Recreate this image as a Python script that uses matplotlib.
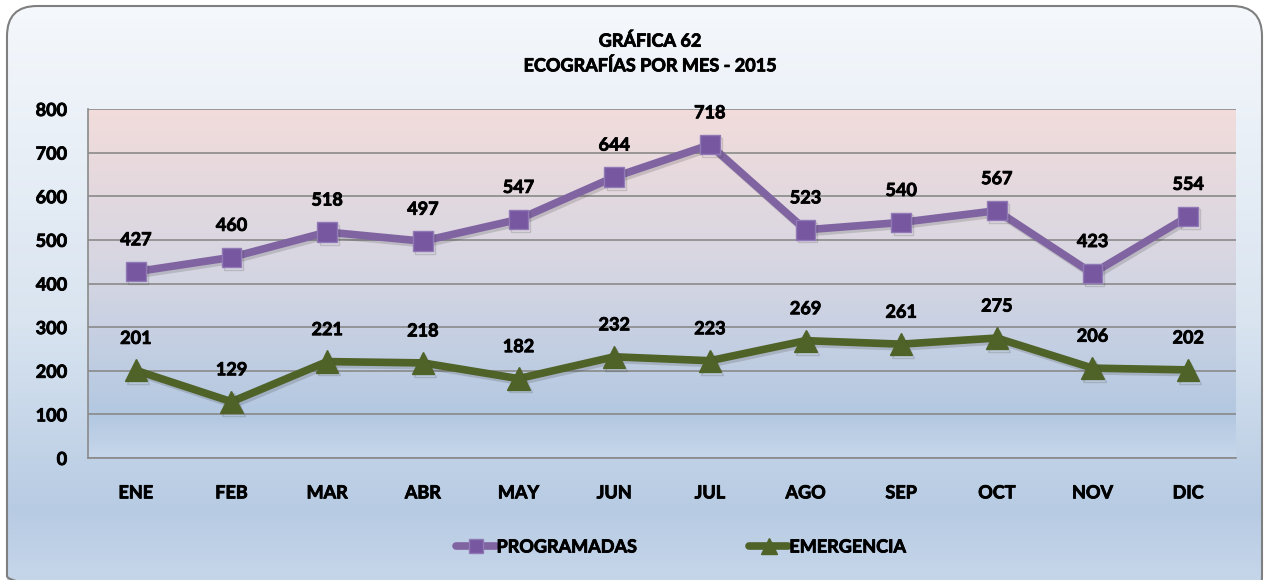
import matplotlib
matplotlib.use("Agg")
import matplotlib.pyplot as plt
import numpy as np
from matplotlib.colors import LinearSegmentedColormap
from matplotlib.patches import FancyBboxPatch
from matplotlib import patheffects as pe

months = ["ENE", "FEB", "MAR", "ABR", "MAY", "JUN", "JUL", "AGO", "SEP", "OCT", "NOV", "DIC"]
programadas = [427, 460, 518, 497, 547, 644, 718, 523, 540, 567, 423, 554]
emergencia = [201, 129, 221, 218, 182, 232, 223, 269, 261, 275, 206, 202]
y_ticks = [0, 100, 200, 300, 400, 500, 600, 700, 800]

title = "GRÁFICA 62\nECOGRAFÍAS POR MES - 2015"

PURPLE = "#8064a2"
GREEN = "#4f6228"
FS = 13
bold_fx = [pe.withStroke(linewidth=0.6, foreground="black")]

plt.rcParams["font.family"] = ["Lato", "DejaVu Sans"]
plt.rcParams["font.weight"] = "bold"

fig = plt.figure(figsize=(12.67, 5.80), dpi=100)
fig.patch.set_facecolor("white")

# chart-area background: rounded box with vertical gradient
bg = fig.add_axes([0, 0, 1, 1], zorder=-5)
bg.set_xlim(0, 1267)
bg.set_ylim(580, 0)
bg.axis("off")
bg_cmap = LinearSegmentedColormap.from_list(
    "bg", [(0, "#f5f8fc"), (0.55, "#d9e4f0"), (0.88, "#b7cbe3"), (1, "#c6d6ea")])
grad = np.linspace(0, 1, 256).reshape(-1, 1)
box = FancyBboxPatch((7, 6), 1255, 600, boxstyle="round,pad=0,rounding_size=30",
                     facecolor="none", edgecolor="#7f7f7f", linewidth=1.5, zorder=3)
bg.add_patch(box)
img = bg.imshow(grad, cmap=bg_cmap, extent=(7, 1262, 580, 6), aspect="auto", zorder=1)
img.set_clip_path(box)

ax = fig.add_axes([88 / 1267, 1 - 458 / 580, (1236 - 88) / 1267, (458 - 109) / 580])
ax.set_facecolor("none")
x = np.arange(len(months))
ax.set_xlim(-0.5, len(months) - 0.5)
ax.set_ylim(0, 800)

pa_cmap = LinearSegmentedColormap.from_list(
    "pa", [(0, "#c7d7eb"), (0.12, "#b3c8e1"), (0.5, "#d3d5e3"), (1, "#f2dcdb")])
ax.imshow(np.linspace(0, 1, 256).reshape(-1, 1), cmap=pa_cmap, origin="lower",
          extent=(-0.5, len(months) - 0.5, 0, 800), aspect="auto", zorder=0)

ax.set_yticks(y_ticks)
ax.set_xticks(x)
ax.set_xticklabels(months)
ax.grid(axis="y", color="#8a8a8a", linewidth=1.2, zorder=1)
ax.tick_params(axis="both", length=0, labelsize=FS, labelcolor="black")
ax.tick_params(axis="y", pad=15)
ax.tick_params(axis="x", pad=19)
for lbl in ax.get_xticklabels() + ax.get_yticklabels():
    lbl.set_path_effects(bold_fx)
for s in ["top", "right"]:
    ax.spines[s].set_visible(False)
for s in ["left", "bottom"]:
    ax.spines[s].set_color("#8a8a8a")
    ax.spines[s].set_linewidth(1.2)

shadow = [pe.SimpleLineShadow(offset=(1.5, -2), alpha=0.18, shadow_color="#333333"), pe.Normal()]

ax.plot(x, programadas, color=PURPLE, linewidth=5.5, marker="s", markersize=14,
        markerfacecolor="#7657a0", markeredgecolor="#9179b6", markeredgewidth=1,
        label="PROGRAMADAS", zorder=4, path_effects=shadow)
ax.plot(x, emergencia, color=GREEN, linewidth=5.5, marker="^", markersize=16,
        markerfacecolor=GREEN, markeredgecolor=GREEN,
        label="EMERGENCIA", zorder=4, path_effects=shadow)

for xi, v in zip(x, programadas):
    ax.annotate(str(v), (xi, v), xytext=(0, 23), textcoords="offset points",
                ha="center", va="center", fontsize=FS, zorder=5, path_effects=bold_fx)
for xi, v in zip(x, emergencia):
    ax.annotate(str(v), (xi, v), xytext=(0, 23), textcoords="offset points",
                ha="center", va="center", fontsize=FS, zorder=5, path_effects=bold_fx)

fig.text(650 / 1267, 1 - 53 / 580, title, ha="center", va="center",
         fontsize=FS, linespacing=1.45, path_effects=bold_fx)

leg = fig.legend(loc="center", bbox_to_anchor=(681 / 1267, 1 - 547 / 580), ncol=2,
                 frameon=False, fontsize=FS, handlelength=2.2, handletextpad=0.05,
                 columnspacing=6.2, markerscale=0.75)
for line in leg.get_lines():
    line.set_path_effects([])
    line.set_solid_capstyle("round")
for t in leg.get_texts():
    t.set_path_effects(bold_fx)

fig.savefig("out.png", dpi=100)
